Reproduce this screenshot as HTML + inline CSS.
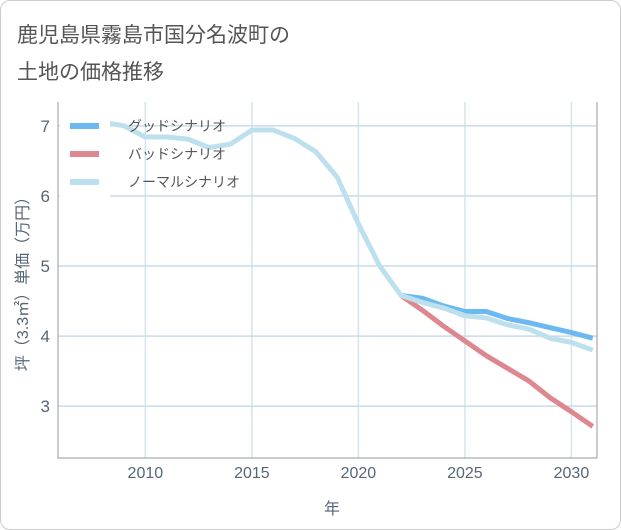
<!DOCTYPE html>
<html><head><meta charset="utf-8"><style>
body{margin:0;background:#fff;font-family:"Liberation Sans","Noto Sans CJK JP",sans-serif;}
#wrap{position:relative;width:619px;height:528px;border:1px solid #ccc;border-radius:10px;overflow:hidden;background:#fff}
.t{position:absolute;left:16px;font-size:21px;color:#555;}
</style></head><body>
<div id="wrap">
<div class="t" style="top:18px">鹿児島県霧島市国分名波町の</div>
<div class="t" style="top:55px">土地の価格推移</div>
<svg id="c" width="621" height="530" style="position:absolute;left:-1px;top:-1px"></svg>
</div>
<script>
const years=[2008,2009,2010,2011,2012,2013,2014,2015,2016,2017,2018,2019,2020,2021,2022,2023,2024,2025,2026,2027,2028,2029,2030,2031];
const normal=[7.05,7.0,6.84,6.84,6.81,6.69,6.74,6.94,6.94,6.82,6.63,6.27,5.6,5.0,4.58,4.48,4.40,4.29,4.26,4.16,4.10,3.97,3.91,3.80];
const goodYears=[2022,2023,2024,2025,2026,2027,2028,2029,2030,2031];
const good=[4.58,4.54,4.43,4.35,4.35,4.25,4.19,4.12,4.05,3.97];
const bad=[4.58,4.37,4.14,3.93,3.72,3.54,3.36,3.12,2.92,2.71];
const xTicks=[2010,2015,2020,2025,2030];
const yTicks=[3,4,5,6,7];
const NS='http://www.w3.org/2000/svg',svg=document.getElementById('c');
const L=58,R=597,T=102,B=458,x0=2005.9,x1=2031.2,y0=2.26,y1=7.34;
const X=v=>L+(v-x0)/(x1-x0)*(R-L), Y=v=>B-(v-y0)/(y1-y0)*(B-T);
function el(t,a,p){const e=document.createElementNS(NS,t);for(const k in a)e.setAttribute(k,a[k]);(p||svg).appendChild(e);return e;}
const clip=el('clipPath',{id:'cp'});el('rect',{x:L,y:T,width:R-L,height:B-T},clip);
xTicks.forEach(v=>{const g=el('line',{x1:X(v),x2:X(v),y1:T,y2:B,stroke:'#d5e3ee','stroke-width':1.5});

const t=el('text',{x:X(v),y:478,'text-anchor':'middle','font-size':16,fill:'#556677'});t.textContent=v;
});
yTicks.forEach(v=>{const g=el('line',{x1:L,x2:R,y1:Y(v),y2:Y(v),stroke:'#c8dce8','stroke-width':1.5});

const t=el('text',{x:50,y:Y(v)+6,'text-anchor':'end','font-size':17,fill:'#556677'});t.textContent=v;
});
const ax=el('path',{d:`M${L},${T}V${B}H${R}V${T}`,fill:'none',stroke:'#999','stroke-width':1});

function line(xs,ys,col,name){const p=el('polyline',{points:xs.map((v,i)=>X(v)+','+Y(ys[i])).join(' '),fill:'none',stroke:col,'stroke-width':5,'stroke-linejoin':'round','clip-path':'url(#cp)'});
}
line(goodYears,good,'#6bb9f0','good-scenario-line');
line(goodYears,bad,'#dd8890','bad-scenario-line');
line(years,normal,'#bde0ee','normal-scenario-line');
const lg=el('g',{});
el('rect',{x:60,y:110,width:50,height:92,fill:'#fff'},lg);
[['グッドシナリオ','#6bb9f0',126],['バッドシナリオ','#dd8890',154],['ノーマルシナリオ','#bde0ee',182]].forEach(([n,c,y])=>{
const r=el('line',{x1:70,x2:99,y1:y,y2:y,stroke:c,'stroke-width':6},lg);
const t=el('text',{x:128,y:y+5,'font-size':14,fill:'#555'},lg);t.textContent=n;});
const xt=el('text',{x:332,y:514,'text-anchor':'middle','font-size':16,fill:'#556677'});xt.textContent='年';

const yt=el('text',{x:0,y:0,'text-anchor':'middle','font-size':16,fill:'#556677',transform:`translate(28,${(T+B)/2}) rotate(-90)`});yt.textContent='坪（3.3㎡）単価（万円）';

</script>
</body></html>
